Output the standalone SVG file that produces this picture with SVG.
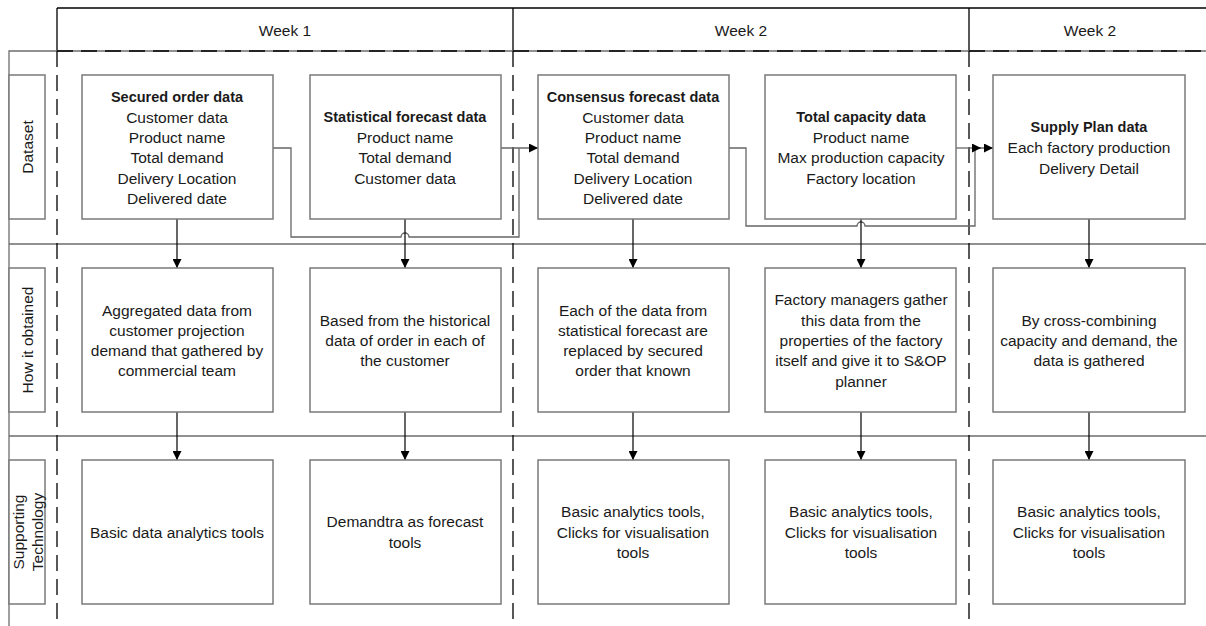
<svg xmlns="http://www.w3.org/2000/svg" width="1206" height="626" viewBox="0 0 1206 626">
  <style>
    .frame { fill: none; stroke: #6e6e6e; stroke-width: 1.3; }
    .sep { fill: none; stroke: #000; stroke-width: 1.3; }
    .dash { fill: none; stroke: #000; stroke-width: 1.3; stroke-dasharray: 16 8; }
    .box { fill: #fff; stroke: #7a7a7a; stroke-width: 1.5; }
    .conn { fill: none; stroke: #666; stroke-width: 1.3; }
    .arrow { fill: none; stroke: #000; stroke-width: 1.2; }
    text { font-family: "Liberation Sans", Arial, sans-serif; font-size: 15.5px; fill: #1a1a1a; text-anchor: middle; dominant-baseline: central; }
    .b { font-weight: bold; font-size: 14.5px; }
  </style>
  <defs>
    <marker id="ah" viewBox="0 0 10 10" refX="10" refY="5" markerWidth="10" markerHeight="9" markerUnits="userSpaceOnUse" orient="auto">
      <path d="M0,0 L10,5 L0,10 z" fill="#000"/>
    </marker>
  </defs>

  <rect width="1206" height="626" fill="#fff"/>

  <!-- swimlane frame -->
  <g id="lanes">
    <path class="sep" d="M57,8 H1206"/>
    <path class="sep" d="M57,8 V51 M513,8 V51 M969,8 V51"/>
    <path class="frame" d="M9,626 V51 H1206"/>
    <path class="dash" d="M57,51 H1206"/>
    <path class="frame" d="M9,244 H1206 M9,436 H1206"/>
    <path class="dash" d="M57,51 V622 M513,51 V622 M969,51 V622"/>
    <text x="285" y="30">Week 1</text>
    <text x="741" y="30">Week 2</text>
    <text x="1090" y="30">Week 2</text>
  </g>

  <!-- lane titles -->
  <g id="lane-dataset">
    <rect class="box" x="9" y="75" width="36" height="144"/>
    <text transform="translate(27,147) rotate(-90)">Dataset</text>
  </g>
  <g id="lane-obtained">
    <rect class="box" x="9" y="268" width="36" height="144"/>
    <text transform="translate(27,340) rotate(-90)">How it obtained</text>
  </g>
  <g id="lane-technology">
    <rect class="box" x="9" y="460" width="36" height="144"/>
    <text transform="translate(18,532) rotate(-90)">Supporting</text>
    <text transform="translate(37,532) rotate(-90)">Technology</text>
  </g>

  <!-- connectors -->
  <g id="connectors">
    <path class="conn" d="M273,148 H291 V237 H401 A4,4 0 0 1 409,237 H519 V148"/>
    <path class="conn" d="M501,148 H538" marker-end="url(#ah)"/>
    <path class="conn" d="M729,148 H746 V226 H857 A4,4 0 0 1 865,226 H975 V148 H993" marker-end="url(#ah)"/>
    <path class="conn" d="M956,148 H981" marker-end="url(#ah)"/>
    <path class="arrow" d="M177,219 V268" marker-end="url(#ah)"/>
    <path class="arrow" d="M405,219 V268" marker-end="url(#ah)"/>
    <path class="arrow" d="M633,219 V268" marker-end="url(#ah)"/>
    <path class="arrow" d="M861,219 V268" marker-end="url(#ah)"/>
    <path class="arrow" d="M1089,219 V268" marker-end="url(#ah)"/>
    <path class="arrow" d="M177,412 V460" marker-end="url(#ah)"/>
    <path class="arrow" d="M405,412 V460" marker-end="url(#ah)"/>
    <path class="arrow" d="M633,412 V460" marker-end="url(#ah)"/>
    <path class="arrow" d="M861,412 V460" marker-end="url(#ah)"/>
    <path class="arrow" d="M1089,412 V460" marker-end="url(#ah)"/>
  </g>

  <!-- dataset row -->
  <g id="secured-order">
    <rect class="box" x="82" y="75" width="191" height="144"/>
    <text class="b" x="177" y="97">Secured order data</text>
    <text x="177" y="117">Customer data</text>
    <text x="177" y="137">Product name</text>
    <text x="177" y="157">Total demand</text>
    <text x="177" y="178">Delivery Location</text>
    <text x="177" y="198">Delivered date</text>
  </g>
  <g id="statistical-forecast">
    <rect class="box" x="310" y="75" width="191" height="144"/>
    <text class="b" x="405" y="117">Statistical forecast data</text>
    <text x="405" y="137">Product name</text>
    <text x="405" y="157">Total demand</text>
    <text x="405" y="178">Customer data</text>
  </g>
  <g id="consensus-forecast">
    <rect class="box" x="538" y="75" width="191" height="144"/>
    <text class="b" x="633" y="97">Consensus forecast data</text>
    <text x="633" y="117">Customer data</text>
    <text x="633" y="137">Product name</text>
    <text x="633" y="157">Total demand</text>
    <text x="633" y="178">Delivery Location</text>
    <text x="633" y="198">Delivered date</text>
  </g>
  <g id="total-capacity">
    <rect class="box" x="765" y="75" width="191" height="144"/>
    <text class="b" x="861" y="117">Total capacity data</text>
    <text x="861" y="137">Product name</text>
    <text x="861" y="157">Max production capacity</text>
    <text x="861" y="178">Factory location</text>
  </g>
  <g id="supply-plan">
    <rect class="box" x="993" y="75" width="192" height="144"/>
    <text class="b" x="1089" y="127">Supply Plan data</text>
    <text x="1089" y="147">Each factory production</text>
    <text x="1089" y="168">Delivery Detail</text>
  </g>

  <!-- how it obtained row -->
  <g id="obtained-secured">
    <rect class="box" x="82" y="268" width="191" height="144"/>
    <text x="177" y="310">Aggregated data from</text>
    <text x="177" y="330">customer projection</text>
    <text x="177" y="350">demand that gathered by</text>
    <text x="177" y="370">commercial team</text>
  </g>
  <g id="obtained-statistical">
    <rect class="box" x="310" y="268" width="191" height="144"/>
    <text x="405" y="320">Based from the historical</text>
    <text x="405" y="340">data of order in each of</text>
    <text x="405" y="360">the customer</text>
  </g>
  <g id="obtained-consensus">
    <rect class="box" x="538" y="268" width="191" height="144"/>
    <text x="633" y="310">Each of the data from</text>
    <text x="633" y="330">statistical forecast are</text>
    <text x="633" y="350">replaced by secured</text>
    <text x="633" y="370">order that known</text>
  </g>
  <g id="obtained-capacity">
    <rect class="box" x="765" y="268" width="191" height="144"/>
    <text x="861" y="299">Factory managers gather</text>
    <text x="861" y="320">this data from the</text>
    <text x="861" y="340">properties of the factory</text>
    <text x="861" y="360">itself and give it to S&amp;OP</text>
    <text x="861" y="381">planner</text>
  </g>
  <g id="obtained-supply">
    <rect class="box" x="993" y="268" width="192" height="144"/>
    <text x="1089" y="320">By cross-combining</text>
    <text x="1089" y="340">capacity and demand, the</text>
    <text x="1089" y="360">data is gathered</text>
  </g>

  <!-- supporting technology row -->
  <g id="tech-secured">
    <rect class="box" x="82" y="460" width="191" height="144"/>
    <text x="177" y="532">Basic data analytics tools</text>
  </g>
  <g id="tech-statistical">
    <rect class="box" x="310" y="460" width="191" height="144"/>
    <text x="405" y="521">Demandtra as forecast</text>
    <text x="405" y="542">tools</text>
  </g>
  <g id="tech-consensus">
    <rect class="box" x="538" y="460" width="191" height="144"/>
    <text x="633" y="511">Basic analytics tools,</text>
    <text x="633" y="532">Clicks for visualisation</text>
    <text x="633" y="552">tools</text>
  </g>
  <g id="tech-capacity">
    <rect class="box" x="765" y="460" width="191" height="144"/>
    <text x="861" y="511">Basic analytics tools,</text>
    <text x="861" y="532">Clicks for visualisation</text>
    <text x="861" y="552">tools</text>
  </g>
  <g id="tech-supply">
    <rect class="box" x="993" y="460" width="192" height="144"/>
    <text x="1089" y="511">Basic analytics tools,</text>
    <text x="1089" y="532">Clicks for visualisation</text>
    <text x="1089" y="552">tools</text>
  </g>
</svg>
